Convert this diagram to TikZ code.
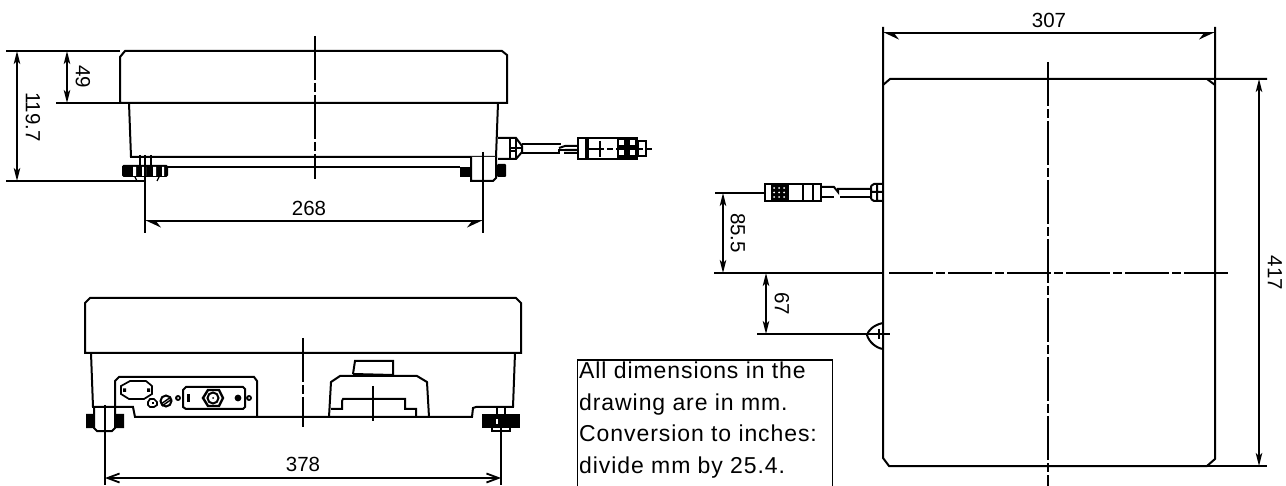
\documentclass[tikz,border=0pt]{standalone}
\usepackage{fontspec}
\setmainfont{Liberation Sans}
\usetikzlibrary{arrows.meta}
\tikzset{
  ln/.style={line width=2pt,line join=miter},
  thin ln/.style={line width=1.3pt},
  center ln/.style={line width=2pt,dash pattern=on 44pt off 3pt on 9pt off 3pt},
  dimv/.style={line width=1.8pt,{Stealth[length=13pt,width=6.5pt,inset=3pt]}-{Stealth[length=13pt,width=6.5pt,inset=3pt]}},
  dimh/.style={line width=1.8pt,{Straight Barb[length=12pt,width=9pt]}-{Straight Barb[length=12pt,width=9pt]}},
  dimhalf/.style={line width=1.8pt,{Stealth[length=14pt,width=13pt,inset=5pt,left]}-{Stealth[length=14pt,width=13pt,inset=5pt,right]}},
  dimtxt/.style={font=\fontsize{20.5pt}{20.5pt}\selectfont,inner sep=0pt},
  blk/.style={fill=black,draw=none},
}
\begin{document}
\begin{tikzpicture}[x=1pt,y=-1pt]
\useasboundingbox (0,0) rectangle (1286,486);
% ===== top-left view =====
\draw[ln] (120,103) -- (120,57) -- (125,51) -- (502,51) -- (507,55) -- (507,103) -- cycle;
\draw[ln] (129,103) -- (131,157) -- (496,157);
\draw[ln] (498,103) -- (496,157);
\draw[ln] (168,167) -- (460,167);
\coordinate (a1) at (6,51); \coordinate (a2) at (120,51);
\coordinate (b1) at (56,103); \coordinate (b2) at (120,103);
\coordinate (c1) at (6,181); \coordinate (c2) at (145,181);
\draw[ln] (a1) -- (a2); \draw[ln] (b1) -- (b2); \draw[ln] (c1) -- (c2);
\coordinate (d1) at (17,51); \coordinate (d2) at (17,181);
\draw[dimv] (d1) -- (d2);
\coordinate (e1) at (67,51); \coordinate (e2) at (67,103);
\draw[dimv] (e1) -- (e2);
\node[dimtxt,rotate=-90] (t1197) at (33,117) {119.7};
\node[dimtxt,rotate=-90] (t49) at (83,77) {49};
\draw[center ln] (315,36) -- (315,179);
% left foot
\fill[blk,rounded corners=1.5pt] (122,165) rectangle (168,177);
\fill[white] (133,167) rectangle (136,176) (142,167) rectangle (146,176) (153,167) rectangle (156,176) (162,167) rectangle (164,176);
\draw[thin ln] (135,177) -- (137,181) (157,181) -- (159,177);
\draw[thin ln] (140,155) -- (140,165) (151,155) -- (151,165);
% right foot
\fill[blk] (460,167) rectangle (471,177);
\fill[blk,rounded corners=1pt] (497,164) rectangle (506,177);
\draw[ln,fill=white] (471,157) -- (471,181) -- (493,181) -- (496,178) -- (496,157);
% dim 268
\coordinate (f1) at (145,155); \coordinate (f2) at (145,233);
\coordinate (g1) at (483,152); \coordinate (g2) at (483,233);
\draw[ln] (f1) -- (f2); \draw[ln] (g1) -- (g2);
\coordinate (h1) at (145,221); \coordinate (h2) at (483,221);
\draw[dimhalf] (h1) -- (h2);
\node[dimtxt] (t268) at (309,208) {268};
% connector side, top view
\draw[ln] (498,138) -- (516,138) -- (522,146) -- (522,152) -- (516,159) -- (498,159);
\draw[ln] (510,138) -- (510,159) (516,138) -- (516,159) (510,148) -- (522,148) (510,151) -- (516,151);
\draw[ln] (522,144) -- (561,144) (522,153) -- (559,153) -- (559,150) -- (565,150);
\draw[ln] (559,148) -- (565,146) -- (578,146) (564,153) -- (578,153) (565,150) -- (578,150);
\draw[ln] (578,138) rectangle (586,159) (586,140) rectangle (588,157) (588,138) rectangle (637,159);
\fill[black] (617,138) rectangle (638,159);
\foreach \xx in {621,632} \foreach \yy in {143,153}
  \fill[white] (\xx,\yy) +(-2.5,-2.5) rectangle +(2.5,2.5);
\draw[ln] (638,141) rectangle (646,156);
\draw[ln,dash pattern=on 18pt off 3pt on 6pt off 3pt] (586,149) -- (652,149);
\draw[ln] (600,141) -- (600,157);
% ===== bottom-left view =====
\draw[ln] (85,353) -- (85,303) -- (90,298) -- (516,298) -- (521,303) -- (521,353) -- cycle;
\draw[ln] (91,353) -- (93,407) -- (133,407) -- (135,417) -- (472,417) -- (473,408) -- (476,407) -- (513,407) -- (515,353);
\draw[center ln] (303,338) -- (303,427);
% panel
\draw[ln] (257,417) -- (257,381) -- (254,377) -- (119,377) -- (115,381) -- (115,407);
\draw[line width=1.7pt] (121,386) -- (130,381) -- (146,381) -- (152,386) -- (152,394) -- (144,399) -- (129,399) -- (121,394) -- cycle;
\fill[black] (123,388.5) rectangle (126,392) (147,388.5) rectangle (150,392);
\draw[line width=1.7pt] (150,399) -- (154,399) -- (157,402) -- (157,405) -- (154,407) -- (150,407) -- (148,405) -- (148,402) -- cycle;
\fill[black] (151.5,402) rectangle (153.5,404);
\draw[ln] (166,401) circle (5.5pt);
\draw[line width=1.4pt] (161,404) -- (171,397) (162,406) -- (172,399);
\fill[black] (178,398) circle (3pt);
\fill[white] (178,398) circle (1pt);
\draw[ln] (186,387) -- (243,387) -- (245,389) -- (245,407) -- (243,409) -- (186,409) -- (183,407) -- (183,390) -- cycle;
\fill[black] (187,394) rectangle (190,402);
\fill[black] (238,398) circle (3.4pt);
\fill[black] (249,398) circle (3pt);
\fill[white] (249,398) circle (1pt);
\draw[line width=2.4pt] (203,398) -- (208,390) -- (219,390) -- (223,398) -- (219,406) -- (208,406) -- cycle;
\draw[ln] (213,398) circle (5.5pt);
\fill[black] (213,398) circle (1pt);
% handle block
\draw[ln] (329,417) -- (331,382) -- (340,376) -- (417,376) -- (427,382) -- (429,417);
\draw[ln] (353,374) -- (355,361) -- (393,361) -- (393,375) (353,374) -- (393,375);
\draw[ln] (331,409) -- (342,409) -- (342,401) -- (343,399) -- (405,399) -- (405,409) -- (416,409) -- (416,417);
\draw[ln] (373,386) -- (373,421);
% feet
\fill[blk] (86,414) rectangle (94,428) (115,414) rectangle (124,428);
\draw[ln] (94,407) -- (94,428) -- (97,431) -- (112,431) -- (115,428) -- (115,407);
\coordinate (i1) at (105,405); \coordinate (i2) at (105,485);
\draw[ln] (i1) -- (i2);
\fill[blk] (482,414) rectangle (520,428);
\fill[white] (496,419) rectangle (498,424);
\draw[thin ln] (497,407) -- (497,414) (505,407) -- (505,414);
\draw[thin ln] (492,428) -- (492,431) -- (510,431) -- (510,428);
\coordinate (j1) at (501,428); \coordinate (j2) at (501,485);
\draw[ln] (j1) -- (j2);
\coordinate (k1) at (105,478); \coordinate (k2) at (501,478);
\draw[dimh] (k1) -- (k2);
\node[dimtxt] (t378) at (303,464) {378};
% ===== note =====
\node[draw,line width=1.2pt,anchor=north west,minimum width=255pt,minimum height=130pt,inner sep=0pt] (note) at (577,359.5) {};
\node[anchor=north west,inner sep=0pt,align=left,font=\fontsize{23pt}{31.5pt}\selectfont\addfontfeature{LetterSpace=4}] (notetxt) at (579,362) {All dimensions in the\\drawing are in mm.\\Conversion to inches:\\divide mm by 25.4.};
% ===== right view =====
\draw[ln] (883,27) -- (883,458) -- (889,466) -- (1207,466) -- (1215,459) -- (1215,27);
\draw[ln] (883,85) -- (890,79) -- (1267,79);
\draw[ln] (1207,79) -- (1215,85);
\draw[ln] (889,466) -- (1267,466);
\coordinate (m1) at (883,33); \coordinate (m2) at (1215,33);
\draw[dimhalf] (m1) -- (m2);
\node[dimtxt] (t307) at (1049,20) {307};
\coordinate (n1) at (1259,79); \coordinate (n2) at (1259,466);
\draw[dimv] (n1) -- (n2);
\node[dimtxt,rotate=-90] (t417) at (1275,273) {417};
\draw[center ln] (1048,62) -- (1048,486);
\draw[ln] (714,273) -- (883,273);
\draw[ln,dash pattern=on 44pt off 3pt on 9pt off 3pt] (889,273) -- (1230,273);
\draw[ln] (715,193) -- (765,193);
\draw[ln] (757,334) -- (890,334);
\coordinate (p1) at (723,193); \coordinate (p2) at (723,273);
\draw[dimv] (p1) -- (p2);
\coordinate (q1) at (766,273); \coordinate (q2) at (766,334);
\draw[dimv] (q1) -- (q2);
\node[dimtxt,rotate=-90] (t855) at (738,233) {85.5};
\node[dimtxt,rotate=-90] (t67) at (782,304) {67};
\draw[ln] (883,323) .. controls (873,325) and (868,331) .. (867,335) .. controls (869,342) and (876,348) .. (883,349);
\draw[ln] (879,329) -- (879,339);
% connector, right view
\draw[ln] (765,184) rectangle (813,201);
\fill[black] (771,184) rectangle (789,201);
\foreach \xx in {774,779,784} \foreach \yy in {188,192.5,197}
  \fill[white] (\xx,\yy) circle (1pt);
\draw[ln] (803,184) -- (803,201);
\draw[ln] (813,184) rectangle (821,201);
\draw[ln] (821,187) -- (834,187) -- (838,192) -- (838,189) -- (871,189);
\draw[ln] (821,197) -- (834,197) (840,197) -- (871,197) -- (871,189);
\draw[ln] (871,186) -- (874,184) -- (882,184) (871,199) -- (874,201) -- (882,201) (871,186) -- (871,199) (877,184) -- (877,201) (871,192) -- (883,192);
\end{tikzpicture}
\end{document}
